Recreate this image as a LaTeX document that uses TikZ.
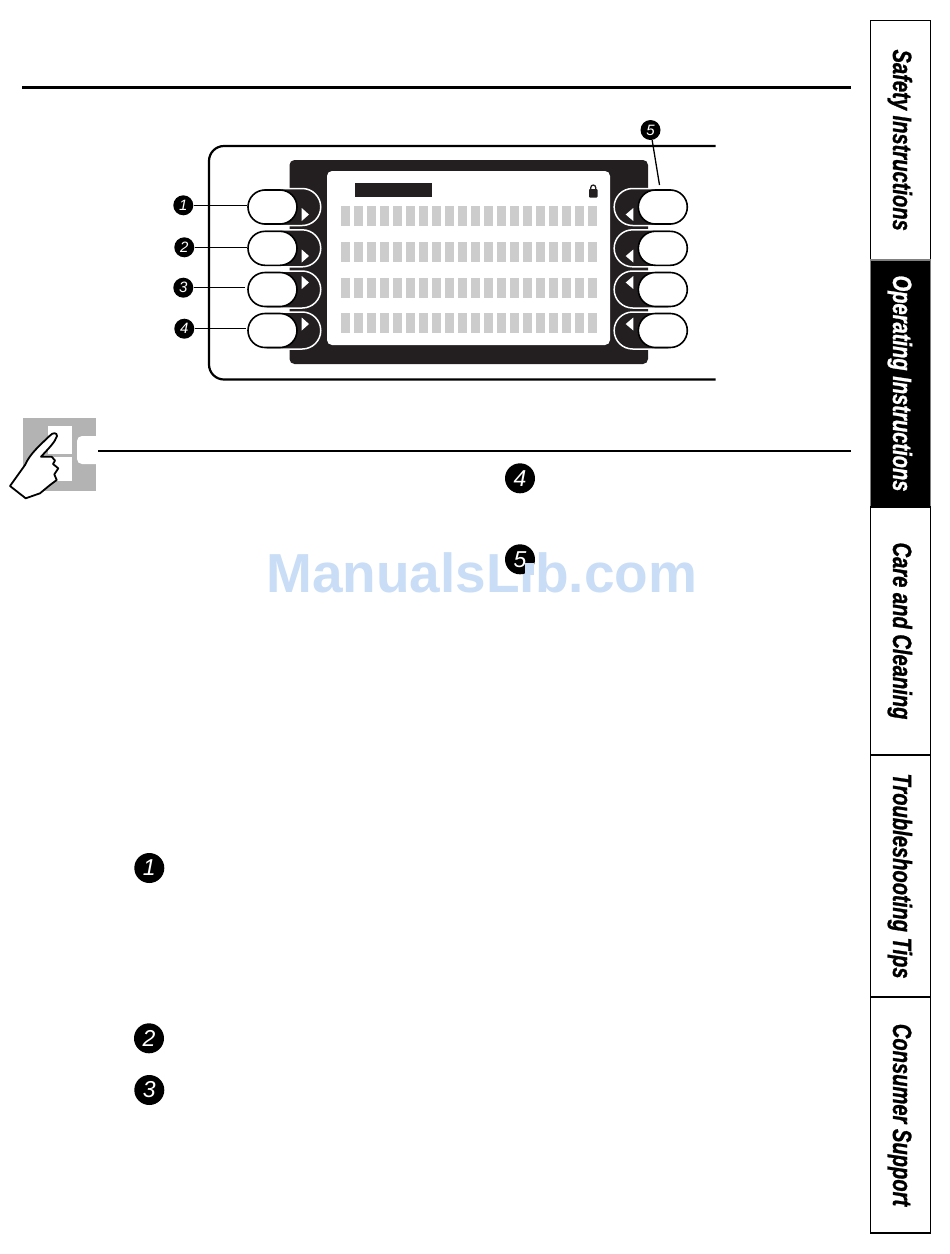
\documentclass[tikz,border=0pt]{standalone}
\usepackage{fontspec}
\usepackage{tikz}
\usetikzlibrary{positioning,shapes.misc}
\setmainfont{Liberation Sans}
\newfontfamily\tabfont[BoldItalicFeatures={FakeStretch=0.76,FakeBold=1}]{Liberation Sans}
\definecolor{paneldark}{HTML}{231F20}
\definecolor{cellgrey}{HTML}{CCCCCC}
\definecolor{iconGrey}{HTML}{B3B3B3}
\definecolor{markblue}{HTML}{C9DDF6}

\begin{document}
\begin{tikzpicture}
  [
   x=1pt,y=-1pt,
   rule/.style={line width=3pt,color=black},
   thinrule/.style={line width=2pt,color=black},
   lead/.style={line width=1.3pt,color=black},
   cn/.style={circle,fill=black,text=white,inner sep=0pt,minimum size=20pt,font=\itshape\fontsize{15}{15}\selectfont},
   bn/.style={circle,fill=black,text=white,inner sep=0pt,minimum size=30pt,font=\itshape\fontsize{23}{23}\selectfont},
   outerpill/.style={rounded rectangle,fill=paneldark,draw=white,line width=1.5pt,minimum width=72.7pt,minimum height=37pt,inner sep=0pt},
   innerpill/.style={rounded rectangle,fill=white,draw=black,line width=1.6pt,minimum width=49pt,minimum height=34pt,inner sep=0pt},
   cell/.style={fill=cellgrey},
   arrowtri/.style={fill=white},
   tabbox/.style={rectangle,rotate=-90,draw=black,line width=1.5pt,minimum height=60.4pt,inner sep=0pt,text height=20pt,text depth=5pt,font=\tabfont\bfseries\itshape\fontsize{26.5}{26.5}\selectfont},
   tabdark/.style={tabbox,fill=black,text=white,draw=gray}
  ]
   \useasboundingbox (0,0) rectangle (950,1254);

   % rules
   \coordinate (r1a) at (22,87);
   \coordinate (r1b) at (851,87);
   \draw[rule] (r1a) -- (r1b);
   \coordinate (r2a) at (98,450.6);
   \coordinate (r2b) at (851,450.6);
   \draw[thinrule] (r2a) -- (r2b);

   % panel
   \draw[line width=2.2pt,rounded corners=15pt] (715.5,146) -- (209,146) -- (209,379.5) -- (715.5,379.5);
   \fill[paneldark,rounded corners=5pt] (289.5,160) rectangle (648,364);
   \fill[white,rounded corners=5pt] (327,171) rectangle (610,345);
   \fill[paneldark] (355,183) rectangle (432,197);
   \foreach \ya/\yb in {206/226,241.5/262,277.5/298,313/333}
     \foreach \i in {0,...,19}
       \fill[cell] (341+13*\i,\ya) rectangle (350+13*\i,\yb);

   % lock
   \fill[paneldark,rounded corners=0.8pt] (589,189) rectangle (597.5,197.5);
   \draw[paneldark,line width=1.3pt] (590.8,190) -- (590.8,187.5) arc (180:360:2.45) -- (595.7,190);

   % buttons
   \foreach \n/\y in {1/207,2/248.3,3/289.5,4/330.5} {
     \node[outerpill] (lo\n) at (284.4,\y) {};
     \node[innerpill] (li\n) at (272.5,\y) {};
     \node[outerpill] (ro\n) at (650.5,\y) {};
     \node[innerpill] (ri\n) at (662.8,\y) {};
   }
   \foreach \y in {208,249.5,276,317.5} {
     \fill[arrowtri] (301.7,\y) -- (309,\y+6.5) -- (301.7,\y+13) -- cycle;
     \fill[arrowtri] (633.3,\y) -- (625.7,\y+6.5) -- (633.3,\y+13) -- cycle;
   }

   % callouts
   \node[cn] (n1) at (183.3,205.3) {1};
   \node[cn] (n2) at (184.3,247.3) {2};
   \node[cn] (n3) at (183.3,287.7) {3};
   \node[cn] (n4) at (184.3,328.7) {4};
   \node[cn] (n5) at (650.5,130) {5};
   \coordinate (e1) at (246.7,205.3);
   \coordinate (e2) at (246.7,247.3);
   \coordinate (e3) at (245,287.7);
   \coordinate (e4) at (246,328.7);
   \coordinate (e5) at (659.5,185);
   \draw[lead] (n1) -- (e1);
   \draw[lead] (n2) -- (e2);
   \draw[lead] (n3) -- (e3);
   \draw[lead] (n4) -- (e4);
   \draw[lead] (n5) -- (e5);

   % hand icon
   \fill[iconGrey] (23,418) rectangle (96,491);
   \fill[white] (48,426) rectangle (72,454);
   \fill[white] (48,457) rectangle (72,481);
   \fill[white,rounded corners=5pt] (97,436) -- (77,436) -- (77,464) -- (97,464);
   \draw[fill=white,line width=1.8pt,line join=round]
     (10,486) -- (25.7,498.3) -- (40,493.3) -- (50,485) -- (56.7,480) -- (54.3,474.3)
     -- (58.3,468.3) -- (53,464) -- (55,460.5) -- (51.7,456.7) -- (41,456.7)
     .. controls (50,447) and (55,442) .. (57,436)
     .. controls (57,432.5) and (53,432) .. (49.5,436)
     .. controls (38,447) and (30,454) .. (25,465) -- cycle;

   % watermark
   \node[anchor=base west,inner sep=0pt,text=markblue,font=\bfseries\fontsize{55}{55}\selectfont] (mark) at (266,592.3) {ManualsLib.com};

   % big callouts
   \node[bn] (b4) at (520,478.3) {4};
   \node[bn] (b5) at (520,559.3) {5};
   \fill[markblue] (525,563) rectangle (533.5,574.5);
   \node[bn] (b1) at (149.3,868) {1};
   \node[bn] (b2) at (149,1038.3) {2};
   \node[bn] (b3) at (149.3,1090) {3};

   % tabs
   \node[tabbox,minimum width=239.7pt] (t1) at (900.5,140.2) {Safety Instructions};
   \node[tabdark,minimum width=247pt] (t2) at (900.5,383.5) {Operating Instructions};
   \node[tabbox,minimum width=248pt] (t3) at (900.5,631) {Care and Cleaning};
   \node[tabbox,minimum width=242pt] (t4) at (900.5,876) {Troubleshooting Tips};
   \node[tabbox,minimum width=236pt] (t5) at (900.5,1115) {Consumer Support};
\end{tikzpicture}
\end{document}
